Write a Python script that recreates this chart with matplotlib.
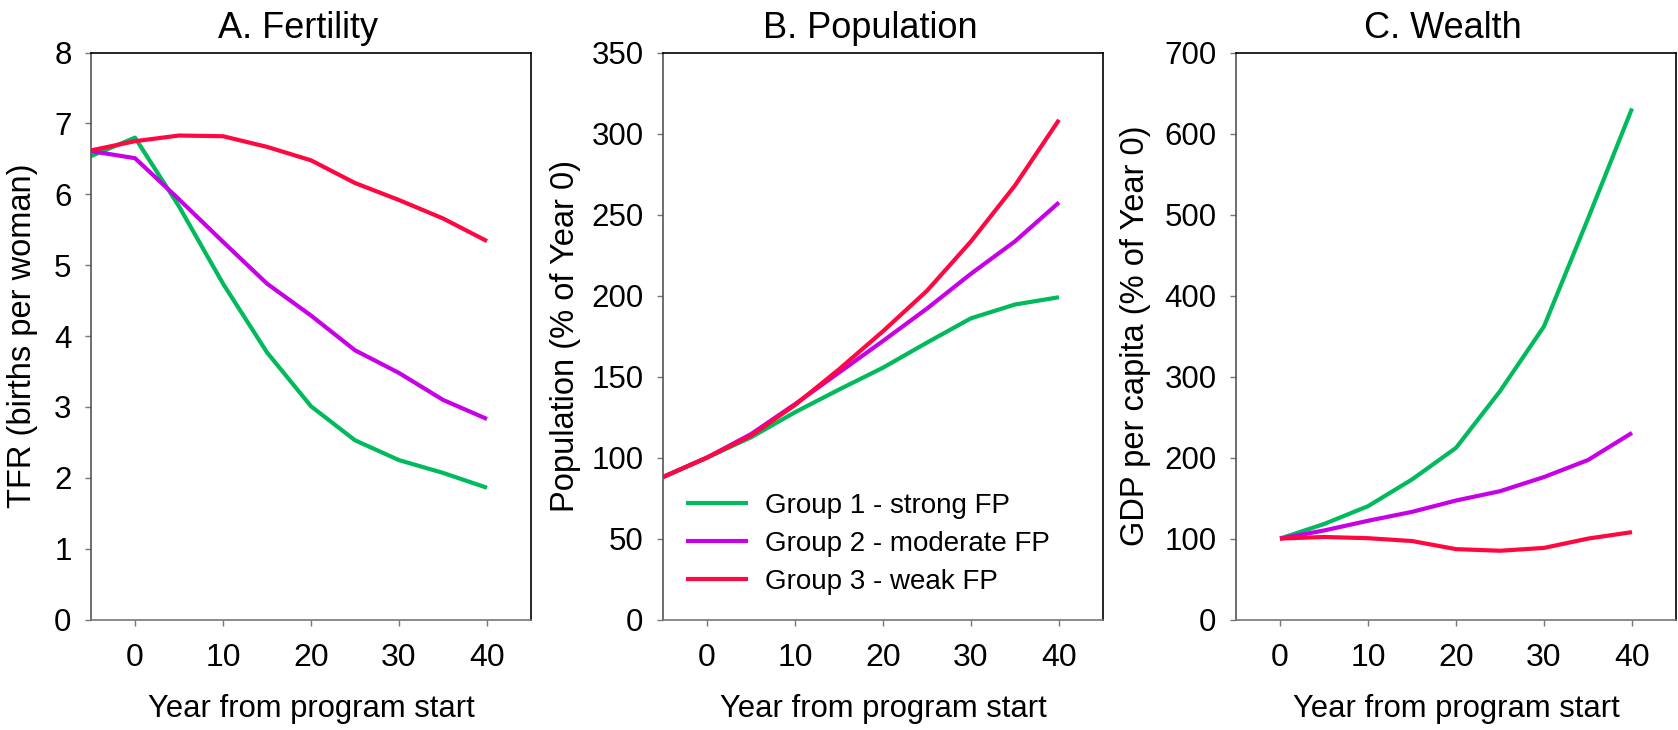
import matplotlib
matplotlib.use("Agg")
import matplotlib.pyplot as plt

plt.rcParams['font.family'] = ['Liberation Sans', 'DejaVu Sans']

years_ab = [-5, 0, 5, 10, 15, 20, 25, 30, 35, 40]
years_c = [0, 5, 10, 15, 20, 25, 30, 35, 40]

groups = ["Group 1 - strong FP", "Group 2 - moderate FP", "Group 3 - weak FP"]
colors = ["#00BA5C", "#C800E8", "#FF0842"]

tfr_g1 = [6.54, 6.80, 5.83, 4.74, 3.77, 3.01, 2.53, 2.25, 2.07, 1.86]
tfr_g2 = [6.61, 6.51, 5.93, 5.33, 4.74, 4.29, 3.80, 3.48, 3.10, 2.83]
tfr_g3 = [6.62, 6.75, 6.83, 6.82, 6.67, 6.48, 6.16, 5.92, 5.66, 5.34]

pop_g1 = [88, 100, 112.5, 128, 142, 155.5, 171, 186, 194.5, 199]
pop_g2 = [88, 100, 114.5, 133, 152.5, 172, 192, 213.5, 233.5, 257.5]
pop_g3 = [88, 100, 113.5, 132.5, 154.5, 178, 203, 233.5, 268, 308.5]

gdp_g1 = [100, 118, 140, 173, 212, 282, 362, 495, 631]
gdp_g2 = [100, 110, 122, 133, 147, 158.5, 176, 197, 230.5]
gdp_g3 = [100, 102, 100.5, 97, 87, 85, 88.5, 100, 108]

titles = ["A. Fertility", "B. Population", "C. Wealth"]
ylabels = ["TFR (births per woman)", "Population (% of Year 0)", "GDP per capita (% of Year 0)"]
xlabel = "Year from program start"

fig = plt.figure(figsize=(16.78, 7.30), dpi=100)
W, H = 1678, 730
lefts = [91, 663, 1236]
axw = 440
bottom_px, top_px = 619.6, 52.6

panels = [
    (years_ab, [tfr_g1, tfr_g2, tfr_g3], (0, 8), range(0, 9, 1)),
    (years_ab, [pop_g1, pop_g2, pop_g3], (0, 350), range(0, 351, 50)),
    (years_c, [gdp_g1, gdp_g2, gdp_g3], (0, 700), range(0, 701, 100)),
]
ylab_x = [-0.12, -0.187, -0.194]

axes = []
for i, (xs, series, ylim, yt) in enumerate(panels):
    ax = fig.add_axes([lefts[i] / W, 1 - bottom_px / H, axw / W, (bottom_px - top_px) / H])
    for s, c, g in zip(series, colors, groups):
        ax.plot(xs, s, color=c, lw=3.0, label=g, solid_capstyle='butt')
    ax.set_xlim(-5, 45)
    ax.set_ylim(*ylim)
    ax.set_xticks([0, 10, 20, 30, 40])
    ax.set_yticks(list(yt))
    ax.tick_params(axis='x', labelsize=23, length=4, width=1, color='#777777', pad=12.5)
    ax.tick_params(axis='y', labelsize=22.5, length=4, width=1, color='#777777', pad=10)
    ax.spines['left'].set_color('#555555')
    ax.spines['bottom'].set_color('#777777')
    ax.spines['top'].set_color('black')
    ax.spines['right'].set_color('black')
    for sp in ax.spines.values():
        sp.set_linewidth(1.2)
    ax.set_title(titles[i], fontsize=26, pad=10.5, x=0.471)
    ax.set_ylabel(ylabels[i], fontsize=23.5)
    ax.yaxis.set_label_coords(ylab_x[i], 0.5)
    ax.set_xlabel(xlabel, fontsize=22.3)
    ax.xaxis.set_label_coords(0.5, -0.132)
    axes.append(ax)

leg = axes[1].legend(loc='upper left', bbox_to_anchor=(0.052, 0.224), frameon=False,
                     fontsize=20, handlelength=2.23, handletextpad=0.61,
                     labelspacing=0.44, borderpad=0, borderaxespad=0)

fig.savefig("out.png", dpi=100)
